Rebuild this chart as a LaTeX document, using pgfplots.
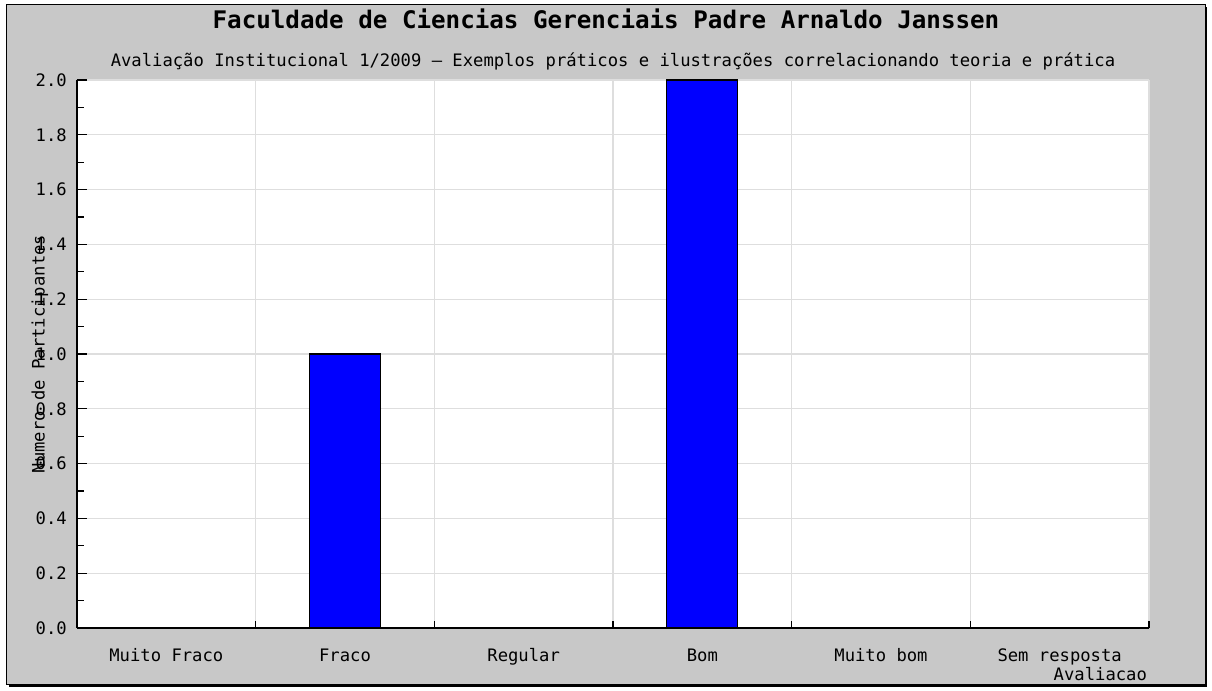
\documentclass[border=0pt]{standalone}
\usepackage{fontspec}
\setmainfont{DejaVu Sans Mono}
\usepackage{pgfplots}
\pgfplotsset{compat=1.18}
\definecolor{bggray}{RGB}{200,200,200}
\definecolor{gridgray}{RGB}{222,222,222}
\definecolor{barblue}{RGB}{0,0,255}
\newcommand\lbl{\fontsize{8.6}{10}\selectfont}
\begin{document}
\begin{tikzpicture}
% 1 px of the reference = 0.5pt, axis box origin at px (77,628)
\useasboundingbox (-38.5pt,-31.5pt) rectangle (567.5pt,314pt);
\fill[black] (-34pt,-29.5pt) rectangle (565pt,310.5pt);
\filldraw[fill=bggray,draw=black,line width=0.5pt] (-35pt,-28.5pt) rectangle (564pt,311.5pt);
\node[anchor=base,inner sep=0pt,font=\fontsize{12.1}{14}\selectfont\bfseries] at (264.5pt,299.5pt)
  {Faculdade de Ciencias Gerenciais Padre Arnaldo Janssen};
\node[anchor=base,inner sep=0pt,font=\lbl] at (268pt,280.5pt)
  {Avaliação Institucional 1/2009 – Exemplos práticos e ilustrações correlacionando teoria e prática};
\begin{axis}[
  scale only axis,
  width=536pt, height=274pt,
  xmin=-0.5, xmax=5.5, ymin=0, ymax=2,
  axis lines*=left,
  axis line style={-, black, line width=1pt},
  axis background/.style={fill=white},
  ybar, bar width=35.5pt, bar shift=0pt,
  xtick={0,...,5},
  xticklabels={Muito Fraco,Fraco,Regular,Bom,Muito bom,Sem resposta},
  major x tick style={draw=none},
  minor xtick={0.5,1.5,2.5,3.5,4.5,5.5},
  xminorgrids=true,
  ytick={0,0.2,0.4,0.6,0.8,1.0,1.2,1.4,1.6,1.8,2.0},
  minor y tick num=1,
  ymajorgrids=true,
  tick align=inside,
  major tick length=5pt,
  minor tick length=3.5pt,
  tick style={black, line width=0.6pt},
  grid style={gridgray, line width=0.6pt},
  minor grid style={gridgray, line width=0.6pt},
  /pgf/number format/assume math mode=true,
  yticklabel={\pgfmathprintnumber[fixed,fixed zerofill,precision=1]{\tick}},
  yticklabel style={font=\lbl, anchor=east, xshift=-1.6pt},
  xticklabel style={font=\lbl, anchor=base, yshift=-17pt},
  xlabel={Avaliacao},
  xlabel style={at={(axis description cs:1,0)}, anchor=base east, yshift=-26.5pt, xshift=2.5pt, font=\lbl},
  ylabel={Numero de Participantes},
  ylabel style={at={(axis description cs:0,0.5)}, anchor=center, yshift=18.5pt, font=\lbl},
]
\addplot[fill=barblue, draw=black, line width=0.6pt] coordinates {(0,0) (1,1) (2,0) (3,2) (4,0) (5,0)};
\end{axis}
\end{tikzpicture}
\end{document}
